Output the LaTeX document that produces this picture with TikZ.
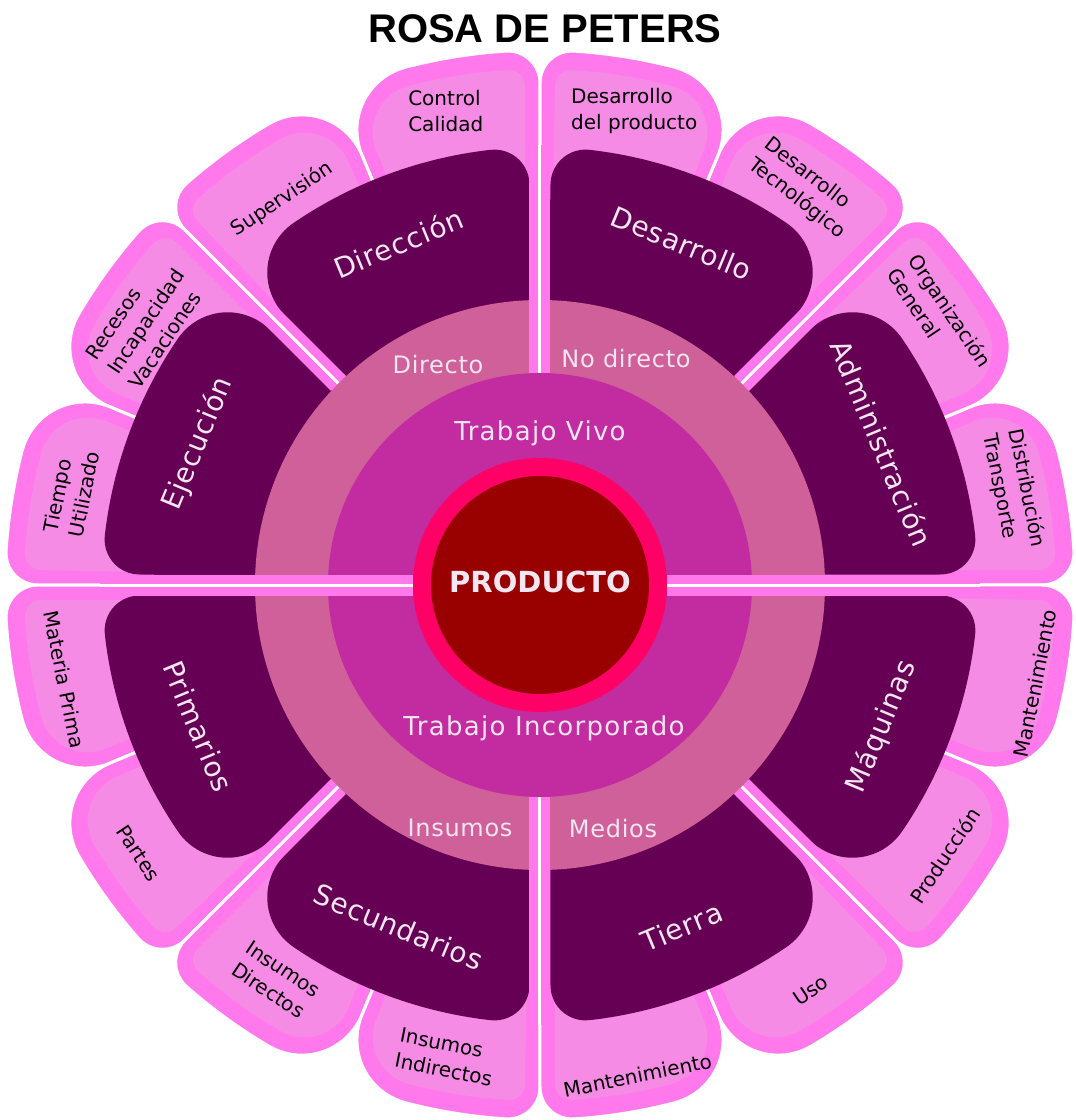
\documentclass[tikz,border=0pt]{standalone}
\usepackage{fontspec}
\setmainfont{DejaVu Sans}
\newfontfamily\titlefont{Liberation Sans}
\newfontfamily\widefont[LetterSpace=5]{DejaVu Sans}
\newfontfamily\airyfont[LetterSpace=3]{DejaVu Sans}
\usetikzlibrary{calc}

\definecolor{petalout}{HTML}{FF79EC}
\definecolor{petalin}{HTML}{F58BE5}
\definecolor{petaldark}{HTML}{660055}
\definecolor{ringpale}{HTML}{D0609A}
\definecolor{ringmid}{HTML}{C32BA1}
\definecolor{ringhot}{HTML}{FF0066}
\definecolor{core}{HTML}{990000}
\definecolor{softwhite}{HTML}{F3E6F0}

\tikzset{
  inlabel/.style={text=softwhite, font=\widefont\fontsize{13}{15}\selectfont},
  smalllabel/.style={text=softwhite, font=\airyfont\fontsize{12}{14}\selectfont},
  darklabel/.style={text=softwhite, font=\airyfont\fontsize{14}{16}\selectfont},
  outlabel/.style={text=black, align=left, inner sep=0pt, font=\fontsize{10}{13}\selectfont},
}

% wedge #1..#2 (degrees) out to radius #3, outer corners rounded by #4 and #5,
% sides pulled in by #6 from the rays; #7 = path options
\newcommand{\roundwedge}[7]{%
  \pgfmathsetmacro\wda{asin((#6+#4)/(#3-#4))}%
  \pgfmathsetmacro\wla{(#3-#4)*cos(\wda)}%
  \pgfmathsetmacro\wdb{asin((#6+#5)/(#3-#5))}%
  \pgfmathsetmacro\wmid{(#1+#2)/2}%
  \pgfmathsetmacro\wtip{#6/sin((#2-#1)/2)}%
  \path[#7] (\wmid:\wtip) -- ($({#1}:\wla)+({#1+90}:#6)$)
    arc[start angle={#1-90}, end angle={#1+\wda}, radius=#4]
    arc[start angle={#1+\wda}, end angle={#2-\wdb}, radius=#3]
    arc[start angle={#2-\wdb}, end angle={#2+90}, radius=#5] -- cycle;%
}

% pink divider with a white thread, along angle #1 from radius #2 to #3
\newcommand{\band}[3]{%
  \draw[petalout, line width=10.5pt] (#1:#2) -- (#1:#3);
  \draw[white, line width=1.5pt] (#1:#2) -- (#1:#3);%
}

\begin{document}
\begin{tikzpicture}[x=0.5pt, y=0.5pt]
  \useasboundingbox (-540,-535) rectangle (536,585);

  % sixteen outer petals, two per sector
  \foreach \a in {0,45,...,315} {
    \roundwedge{\a}{\a+22.5}{535}{32}{65}{0}{fill=petalout, draw=white, line width=1.5pt}
    \roundwedge{\a+22.5}{\a+45}{535}{65}{32}{0}{fill=petalout, draw=white, line width=1.5pt}
    \roundwedge{\a}{\a+22.5}{516}{16}{48}{15}{fill=petalin}
    \roundwedge{\a+22.5}{\a+45}{516}{48}{16}{15}{fill=petalin}
  }
  % eight dark petals, tight corners on the axes
  \foreach \a in {0,90,180,270} {
    \roundwedge{\a}{\a+45}{438}{35}{60}{10.5}{fill=petaldark}
    \roundwedge{\a+45}{\a+90}{438}{60}{35}{10.5}{fill=petaldark}
  }

  \foreach \a in {45,135,225,315} {\band{\a}{285}{440}}
  \fill[ringpale] (0,0) circle (285);
  \band{90}{212}{440}
  \band{270}{212}{440}
  \fill[ringmid] (0,0) circle (212);
  \band{0}{127}{440}
  \band{180}{127}{440}
  \fill[ringhot] (0,0) circle (127);
  \fill[core] (0,0) circle (109);

  \node[font=\titlefont\bfseries\fontsize{20}{24}\selectfont, anchor=base] (title) at (5,542) {ROSA DE PETERS};
  \node[font=\bfseries\fontsize{14.5}{16}\selectfont, text=softwhite] (producto) at (0,3) {PRODUCTO};

  \node[inlabel, anchor=base] (vivo) at (0,144) {Trabajo Vivo};
  \node[inlabel, anchor=base] (incorp) at (4,-150) {Trabajo Incorporado};
  \node[smalllabel, anchor=base] (directo) at (-102,212) {Directo};
  \node[smalllabel, anchor=base] (nodirecto) at (86,217) {No directo};
  \node[smalllabel, anchor=base] (insumos) at (-80,-251) {Insumos};
  \node[smalllabel, anchor=base] (medios) at (73,-252) {Medios};

  % labels on the dark petals
  \foreach \n/\a/\r/\t in {adm/22.5/-67.5/Administración, des/67.5/-22.5/Desarrollo,
      dir/112.5/22.5/Dirección, eje/157.5/67.5/Ejecución, pri/202.5/-67.5/Primarios,
      sec/247.5/-22.5/Secundarios, tie/292.5/22.5/Tierra, maq/337.5/67.5/Máquinas}
    \node[darklabel, rotate=\r] (\n) at (\a:370) {\t};

  % labels on the outer petals
  \foreach \n/\a/\d/\r/\t in {
      dist/11.25/483/-78.75/{Distribución\\Transporte},
      org/33.75/481/-56.25/{Organización\\General},
      tec/56.25/477/-38/{Desarrollo\\Tecnológico},
      prod/78.75/483/0/{Desarrollo\\del producto},
      cal/101.25/483/0/{Control\\Calidad},
      sup/123.75/464/33.75/{Supervisión},
      rec/146.25/474/56.25/{Recesos\\Incapacidad\\Vacaciones},
      tmp/168.75/478/78.75/{Tiempo\\Utilizado},
      mat/191.25/485/-78.75/{Materia Prima},
      par/213.75/483/-56.25/{Partes},
      idir/236.25/475/-33.75/{Insumos\\Directos},
      iind/258.75/481/-11.25/{Insumos\\Indirectos},
      mant/281.25/500/11.25/{Mantenimiento},
      uso/303.75/487/33.75/{Uso},
      pcc/326.25/487/56.25/{Producción},
      mnt/348.75/505/78.75/{Mantenimiento}}
    \node[outlabel, rotate=\r] (\n) at (\a:\d) {\t};
\end{tikzpicture}
\end{document}
